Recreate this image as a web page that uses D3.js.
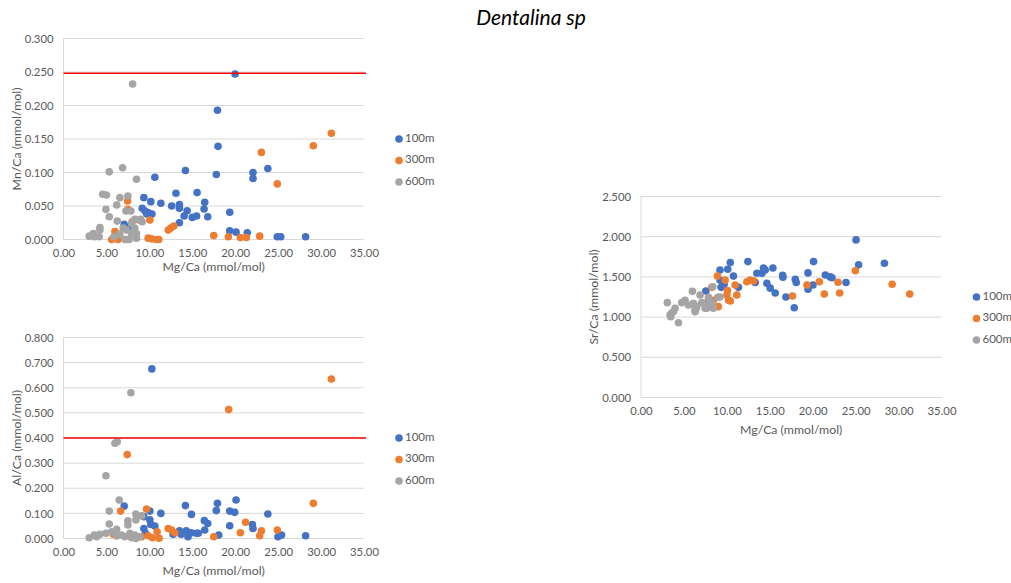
<!DOCTYPE html>
<html><head><meta charset="utf-8">
<script src="https://cdn.jsdelivr.net/npm/d3@7"></script>
<style>
html,body{margin:0;padding:0;background:#fff;}
svg{display:block;font-family:Lato,"Open Sans",sans-serif;}
</style></head>
<body><svg id="chart" width="1011" height="583"></svg>
<script>
// ---------- data ----------
const seriesNames = ["100m","300m","600m"];
const seriesColors = ["#4472C4","#ED7D31","#A5A5A5"];
const xTicks = [0,5,10,15,20,25,30,35];
const mnTicks = [0,0.05,0.1,0.15,0.2,0.25,0.3];
const alTicks = [0,0.1,0.2,0.3,0.4,0.5,0.6,0.7,0.8];
const srTicks = [0,0.5,1,1.5,2,2.5];
const mnLimit = 0.248;
const alLimit = 0.4;

// Mn/Ca vs Mg/Ca
const mn100 = [[19.98,0.247],[17.93,0.193],[18.0,0.139],[14.2,0.103],[17.8,0.097],[22.07,0.100],[22.07,0.091],[23.8,0.106],[15.56,0.070],[16.45,0.0555],[16.37,0.0455],[19.36,0.0406],[16.8,0.034],[13.1,0.069],[13.5,0.052],[13.5,0.0465],[14.4,0.043],[14.05,0.035],[15.0,0.033],[15.5,0.035],[13.5,0.025],[19.36,0.013],[20.1,0.011],[21.4,0.010],[24.9,0.004],[25.3,0.004],[28.2,0.004],[10.64,0.093],[9.36,0.0625],[10.17,0.0565],[11.34,0.054],[12.6,0.050],[9.17,0.0465],[9.5,0.0425],[9.9,0.040],[10.3,0.038],[9.7,0.038],[7.07,0.0227],[7.5,0.018]];
const mn300 = [[31.2,0.1585],[29.1,0.140],[23.05,0.130],[24.9,0.083],[17.5,0.006],[19.2,0.004],[20.6,0.003],[21.3,0.003],[22.85,0.005],[7.46,0.0575],[7.5,0.045],[5.99,0.012],[5.6,0.0],[6.37,0.0],[7.35,0.0],[8.0,0.0265],[8.8,0.029],[10.06,0.029],[9.86,0.002],[10.25,0.001],[10.8,0.0],[11.1,0.0],[12.2,0.014],[12.5,0.017],[12.85,0.020]];
const mn600 = [[8.05,0.232],[5.33,0.101],[6.88,0.107],[8.5,0.090],[4.56,0.0675],[5.0,0.0665],[6.57,0.0625],[7.5,0.065],[6.2,0.0515],[4.94,0.045],[7.27,0.0425],[7.85,0.0425],[5.33,0.034],[8.3,0.030],[8.98,0.030],[9.16,0.0265],[6.26,0.0275],[4.24,0.018],[4.24,0.014],[3.47,0.009],[3.0,0.005],[3.6,0.004],[4.16,0.004],[5.87,0.004],[6.57,0.008],[7.35,0.014],[7.93,0.009],[8.3,0.017],[8.5,0.009],[7.93,0.024],[7.15,0.0],[7.65,0.0],[8.5,0.002],[6.95,0.017]];

// Al/Ca vs Mg/Ca
const al100 = [[10.29,0.675],[7.07,0.129],[10.06,0.109],[11.34,0.100],[10.06,0.074],[10.17,0.056],[10.64,0.050],[9.36,0.087],[9.36,0.040],[9.55,0.021],[14.2,0.131],[14.9,0.096],[12.77,0.017],[13.5,0.031],[13.7,0.017],[14.3,0.031],[14.5,0.007],[14.9,0.023],[15.5,0.021],[17.93,0.140],[17.8,0.111],[20.1,0.153],[19.36,0.109],[19.94,0.104],[23.8,0.0975],[16.4,0.071],[16.8,0.060],[16.45,0.034],[19.36,0.051],[22.0,0.056],[22.07,0.040],[18.08,0.014],[15.7,0.021],[24.98,0.007],[25.4,0.014],[28.2,0.011]];
const al300 = [[29.1,0.140],[31.2,0.635],[19.24,0.513],[7.42,0.334],[6.65,0.109],[9.67,0.117],[5.8,0.017],[9.1,0.007],[9.86,0.011],[10.37,0.003],[11.14,0.001],[10.9,0.027],[12.2,0.040],[12.6,0.034],[12.97,0.023],[21.2,0.0645],[20.6,0.023],[17.5,0.007],[23.05,0.031],[22.85,0.011],[24.9,0.034]];
const al600 = [[7.85,0.580],[5.99,0.379],[6.26,0.385],[4.94,0.250],[6.49,0.153],[5.33,0.109],[5.33,0.058],[7.5,0.070],[7.5,0.054],[8.43,0.0975],[8.43,0.074],[9.1,0.090],[6.19,0.037],[3.0,0.003],[3.6,0.014],[4.24,0.017],[4.94,0.021],[5.6,0.027],[6.19,0.010],[6.77,0.014],[7.15,0.007],[7.73,0.021],[7.93,0.003],[8.3,0.014],[8.43,0.0],[8.9,0.007],[3.86,0.007]];

// Sr/Ca vs Mg/Ca
const sr100 = [[9.2,1.585],[10.4,1.68],[10.1,1.595],[10.77,1.51],[7.55,1.325],[9.2,1.46],[9.33,1.37],[9.68,1.41],[11.35,1.37],[12.45,1.69],[13.5,1.545],[14.08,1.545],[14.27,1.61],[14.47,1.585],[15.36,1.61],[14.66,1.42],[15.05,1.36],[15.63,1.30],[13.3,1.43],[16.5,1.52],[16.53,1.495],[16.88,1.25],[17.97,1.47],[18.08,1.43],[17.85,1.117],[19.45,1.55],[20.1,1.69],[19.45,1.346],[20.03,1.40],[21.47,1.524],[22.05,1.50],[22.25,1.49],[23.88,1.43],[25.05,1.96],[25.35,1.65],[28.35,1.67]];
const sr300 = [[8.9,1.51],[9.8,1.46],[8.25,1.37],[10.97,1.40],[10.07,1.33],[10.0,1.275],[11.16,1.275],[10.2,1.21],[9.0,1.13],[8.43,1.21],[6.1,1.17],[6.4,1.10],[12.33,1.44],[12.7,1.46],[13.1,1.45],[10.4,1.20],[17.65,1.262],[19.33,1.40],[20.77,1.44],[21.35,1.287],[22.95,1.433],[23.14,1.30],[24.97,1.577],[29.25,1.408],[31.3,1.287]];
const sr600 = [[3.07,1.18],[3.58,1.05],[3.46,1.005],[3.97,1.11],[5.13,1.21],[4.74,1.18],[5.99,1.32],[6.88,1.275],[8.36,1.378],[7.86,1.246],[6.3,1.09],[6.5,1.13],[8.95,1.246],[9.2,1.25],[8.43,1.11],[7.47,1.11],[7.66,1.18],[8.24,1.18],[7.08,1.18],[5.52,1.15],[6.1,1.17],[3.38,1.026],[3.77,1.067],[4.36,0.93],[6.3,1.067],[6.3,1.12],[7.66,1.11],[8.43,1.12]];

// ---------- drawing ----------
const svg = d3.select("#chart");
const textCol = "#595959", gridCol = "#d9d9d9";

svg.append("text").attr("x",531).attr("y",25).attr("text-anchor","middle")
  .attr("font-size",21).attr("font-style","italic").attr("fill","#000").text("Dentalina sp");

function drawChart(cfg){
  const x = d3.scaleLinear().domain([0,35]).range([cfg.left,cfg.right]);
  const y = d3.scaleLinear().domain([0,cfg.yMax]).range([cfg.bottom,cfg.top]);
  const g = svg.append("g");
  // grid
  g.selectAll("line.grid").data(cfg.yTicks).join("line")
    .attr("x1",cfg.left).attr("x2",cfg.right)
    .attr("y1",d=>y(d)).attr("y2",d=>y(d))
    .attr("stroke",gridCol).attr("stroke-width",1);
  g.append("line").attr("x1",cfg.left).attr("x2",cfg.left)
    .attr("y1",cfg.top).attr("y2",cfg.bottom).attr("stroke",gridCol);
  // y tick labels
  const yAxis = d3.axisLeft(y).tickValues(cfg.yTicks).tickFormat(d3.format(".3f")).tickSize(0).tickPadding(10);
  const ya = g.append("g").attr("transform",`translate(${cfg.left},0)`).call(yAxis);
  ya.select(".domain").remove();
  ya.selectAll("text").attr("fill",textCol).attr("font-size",11.3).attr("font-family","Lato,sans-serif");
  const xAxis = d3.axisBottom(x).tickValues(xTicks).tickFormat(d3.format(".2f")).tickSize(0).tickPadding(9);
  const xa = g.append("g").attr("transform",`translate(0,${cfg.bottom})`).call(xAxis);
  xa.select(".domain").remove();
  xa.selectAll("text").attr("fill",textCol).attr("font-size",11.3).attr("font-family","Lato,sans-serif");
  // titles
  g.append("text").attr("x",(cfg.left+cfg.right)/2).attr("y",cfg.xTitleY)
    .attr("text-anchor","middle").attr("dominant-baseline","middle")
    .attr("font-size",12.3).attr("fill",textCol).text("Mg/Ca (mmol/mol)");
  g.append("text").attr("transform",`translate(${cfg.yTitleX},${(cfg.top+cfg.bottom)/2}) rotate(-90)`)
    .attr("text-anchor","middle").attr("dominant-baseline","middle")
    .attr("font-size",12.3).attr("fill",textCol).text(cfg.yTitle);
  // points
  cfg.series.forEach((data,i)=>{
    g.append("g").selectAll("circle").data(data).join("circle")
      .attr("cx",d=>x(d[0])).attr("cy",d=>y(d[1])).attr("r",3.8)
      .attr("fill",seriesColors[i]);
  });
  // limit line
  if(cfg.limit!==undefined){
    g.append("line").attr("x1",cfg.left).attr("x2",cfg.right+2)
      .attr("y1",y(cfg.limit)).attr("y2",y(cfg.limit))
      .attr("stroke","#FF0000").attr("stroke-width",1.5);
  }
  // legend
  seriesNames.forEach((n,i)=>{
    const ly = cfg.legY + i*21.5;
    g.append("circle").attr("cx",cfg.legX).attr("cy",ly).attr("r",3.8).attr("fill",seriesColors[i]);
    g.append("text").attr("x",cfg.legX+6).attr("y",ly).attr("dominant-baseline","middle")
      .attr("font-size",11.5).attr("fill",textCol).text(n);
  });
}

drawChart({left:63.5,right:364,top:38.5,bottom:239.5,yMax:0.3,yTicks:mnTicks,
  series:[mn100,mn300,mn600],limit:mnLimit,yTitle:"Mn/Ca (mmol/mol)",yTitleX:18,xTitleY:268,
  legX:399,legY:139});
drawChart({left:63.5,right:364,top:337.5,bottom:538.5,yMax:0.8,yTicks:alTicks,
  series:[al100,al300,al600],limit:alLimit,yTitle:"Al/Ca (mmol/mol)",yTitleX:18,xTitleY:572,
  legX:399,legY:438});
drawChart({left:641,right:941.5,top:196.5,bottom:397.5,yMax:2.5,yTicks:srTicks,
  series:[sr100,sr300,sr600],yTitle:"Sr/Ca (mmol/mol)",yTitleX:595,xTitleY:431,
  legX:976.5,legY:297});
</script></body></html>
